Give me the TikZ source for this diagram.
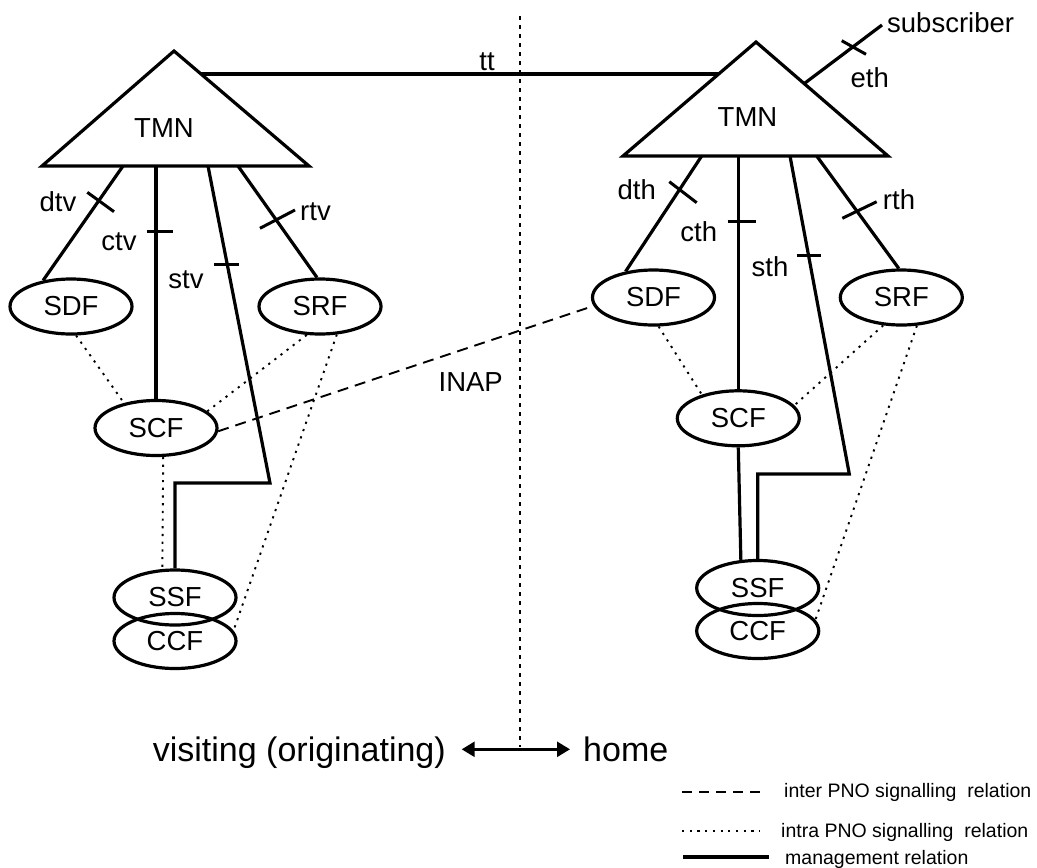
\documentclass[tikz,border=0pt]{standalone}
\usepackage{fontspec}
\setmainfont{Liberation Sans}
\usetikzlibrary{shapes.geometric,arrows.meta}

\begin{document}
\begin{tikzpicture}[x=1pt,y=-1pt,
  fn/.style={ellipse,draw,line width=3.2pt,minimum width=122pt,minimum height=55pt,
    inner sep=0pt,font=\fontsize{27.5}{30}\selectfont},
  lbl/.style={inner sep=0pt,font=\fontsize{27.5}{30}\selectfont},
  mgmt/.style={line width=3.2pt,line join=miter},
  mtick/.style={line width=3pt},
  intra/.style={line width=1.9pt,dash pattern=on 2.2pt off 5.5pt},
  inter/.style={line width=1.9pt,dash pattern=on 11pt off 7pt},
  divider/.style={line width=2.2pt,dash pattern=on 3.5pt off 5.5pt},
  side/.style={inner sep=0pt,font=\fontsize{34}{38}\selectfont},
  legtext/.style={inner sep=0pt,anchor=base west,font=\fontsize{19.5}{22}\selectfont}
]
\useasboundingbox (0,0) rectangle (1037,868);

% ---------- visiting network ----------
\coordinate (apexL) at (174,51);
\coordinate (blL) at (42,166);
\coordinate (brL) at (309,166);
\draw[mgmt] (apexL) -- (brL) -- (blL) -- cycle;
\node[lbl] (tmnL) at (164,128) {TMN};

\node[fn] (SDFv) at (71,306.5) {SDF};
\node[fn] (SRFv) at (320,306.5) {SRF};
\node[fn] (SCFv) at (156,428) {SCF};
\node[fn] (CCFv) at (175,641) {CCF};
\node[fn] (SSFv) at (175,597.5) {SSF};

\coordinate (dtvB) at (123,166);
\coordinate (ctvB) at (156,166);
\coordinate (stvB) at (208,166);
\coordinate (stvK) at (270,483);
\coordinate (rtvB) at (238,166);

\draw[mgmt] (dtvB) -- (SDFv.137);
\draw[mgmt] (ctvB) -- (SCFv.north);
\draw[mgmt] (stvB) -- (stvK) -| (SSFv.north);
\draw[mgmt] (rtvB) -- (SRFv.96);

\draw[mtick] (87.3,192.3) -- (114,211.7);
\draw[mtick] (146.7,231) -- (173.3,231);
\draw[mtick] (214.3,264) -- (239,264);
\draw[mtick] (260,228.3) -- (295,210);

\node[lbl] (dtv) at (58,201.7) {dtv};
\node[lbl] (ctv) at (119,241.7) {ctv};
\node[lbl] (stv) at (186,280) {stv};
\node[lbl] (rtv) at (315.5,211.7) {rtv};

\draw[intra] (SDFv.-80) -- (SCFv.142);
\draw[intra] (SRFv.-115) -- (SCFv.18);
\draw[intra] (SRFv.-59) -- (CCFv.10);
\draw[intra] (SCFv.-76) -- (SSFv.114);

% ---------- home network ----------
\coordinate (apexR) at (756,42);
\coordinate (blR) at (623,156);
\coordinate (brR) at (888,156);
\draw[mgmt] (apexR) -- (brR) -- (blR) -- cycle;
\node[lbl] (tmnR) at (747.5,116.7) {TMN};

\node[fn] (SDFh) at (653.5,297.5) {SDF};
\node[fn] (SRFh) at (901.3,297.5) {SRF};
\node[fn] (SCFh) at (738.3,418.3) {SCF};
\node[fn] (CCFh) at (757.7,631) {CCF};
\node[fn] (SSFh) at (757.7,588) {SSF};

\coordinate (dthB) at (701.7,156);
\coordinate (cthB) at (738.3,156);
\coordinate (sthB) at (790,156);
\coordinate (sthK) at (849.3,474);
\coordinate (rthB) at (816.7,156);

\draw[mgmt] (dthB) -- (SDFh.137);
\draw[mgmt] (cthB) -- (SCFh.north);
\draw[mgmt] (sthB) -- (sthK) -| (SSFh.north);
\draw[mgmt] (rthB) -- (SRFh.95);
\draw[mgmt] (SCFh.south) -- (SSFh.121);

\draw[mtick] (669.3,181.7) -- (696.7,202.7);
\draw[mtick] (727.7,221) -- (755.7,221);
\draw[mtick] (796.7,255) -- (820.7,255);
\draw[mtick] (842.3,218.3) -- (876.7,201.7);

\node[lbl] (dth) at (636.7,190) {dth};
\node[lbl] (cth) at (698.7,231.7) {cth};
\node[lbl] (sth) at (770,266.7) {sth};
\node[lbl] (rth) at (899,200) {rth};

\draw[intra] (SDFh.-80) -- (SCFh.147);
\draw[intra] (SRFh.-123) -- (SCFh.13);
\draw[intra] (SRFh.-61) -- (CCFh.11);

% subscriber access to the home TMN
\coordinate (ethA) at (805,83);
\coordinate (subE) at (882,25);
\draw[mgmt] (ethA) -- (subE);
\draw[mtick] (841.7,40.7) -- (866,54.3);
\node[lbl] (eth) at (869.7,77.3) {eth};
\node[lbl,anchor=west] (sub) at (887,23) {subscriber};

% TMN to TMN relation
\coordinate (ttL) at (201,74);
\coordinate (ttR) at (719,74);
\draw[mgmt] (ttL) -- (ttR);
\node[lbl] (tt) at (487,62) {tt};

% INAP between the networks
\draw[inter] (SCFv.-3) -- (SDFh.-172);
\node[lbl] (inap) at (470.7,381.7) {INAP};

% ---------- boundary and sides ----------
\coordinate (divT) at (520,16);
\coordinate (divB) at (520,747);
\draw[divider] (divT) -- (divB);

\coordinate (arrL) at (461.7,749.3);
\coordinate (arrR) at (570,749.3);
\draw[line width=2.6pt,{Triangle[length=13pt,width=15pt]}-{Triangle[length=13pt,width=15pt]}] (arrL) -- (arrR);
\node[side,anchor=base east] (visiting) at (446,761.5) {visiting (originating)};
\node[side,anchor=base west] (home) at (583,761.5) {home};

% ---------- legend ----------
\coordinate (l1a) at (682,792);   \coordinate (l1b) at (760,792);
\coordinate (l2a) at (682,831);   \coordinate (l2b) at (760,831);
\coordinate (l3a) at (683,857);   \coordinate (l3b) at (769,857);
\draw[inter,dash pattern=on 10pt off 7pt] (l1a) -- (l1b);
\draw[intra] (l2a) -- (l2b);
\draw[line width=4pt] (l3a) -- (l3b);
\node[legtext] (leg1) at (784,797) {inter PNO signalling\ \ relation};
\node[legtext] (leg2) at (781,837) {intra PNO signalling\ \ relation};
\node[legtext] (leg3) at (785,864) {management relation};
\end{tikzpicture}
\end{document}
